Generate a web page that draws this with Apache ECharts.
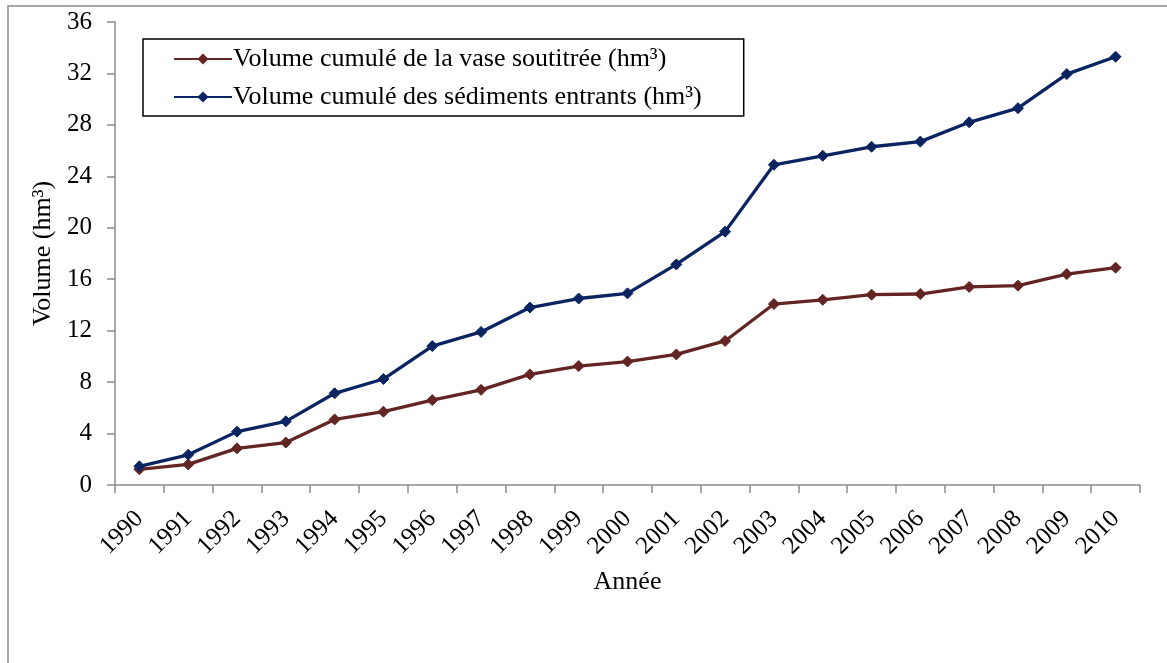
<!DOCTYPE html>
<html><head><meta charset="utf-8">
<script src="https://cdn.jsdelivr.net/npm/echarts@6/dist/echarts.min.js"></script>
<style>html,body{margin:0;padding:0;background:#fff}#c{width:1167px;height:663px}</style>
</head><body><div id="c"></div>
<script>
const years = ['1990','1991','1992','1993','1994','1995','1996','1997','1998','1999','2000','2001','2002','2003','2004','2005','2006','2007','2008','2009','2010'];
const vaseSoutiree = [1.22,1.6,2.85,3.3,5.1,5.7,6.6,7.4,8.6,9.25,9.6,10.15,11.2,14.07,14.4,14.8,14.85,15.4,15.5,16.4,16.9];
const sedimentsEntrants = [1.45,2.35,4.15,4.95,7.13,8.24,10.8,11.9,13.8,14.5,14.9,17.15,19.7,24.9,25.6,26.3,26.7,28.2,29.3,31.95,33.3];
const yTicks = [0,4,8,12,16,20,24,28,32,36];
const seriesNames = ['Volume cumulé de la vase soutitrée (hm³)','Volume cumulé des sédiments entrants (hm³)'];

const font = '"Liberation Serif","Times New Roman",serif';
const chart = echarts.init(document.getElementById('c'), null, {renderer:'canvas'});
chart.setOption({
  animation:false,
  backgroundColor:'#fff',
  graphic:[{type:'rect',shape:{x:8,y:6,width:1300,height:800},style:{fill:'none',stroke:'#8c8c8c',lineWidth:1.5},z:-1}],
  grid:{left:115,top:22,right:27,bottom:178,containLabel:false},
  legend:{
    left:143,top:39,orient:'vertical',
    padding:[5,42,4,30],itemGap:8,
    borderColor:'#000',borderWidth:1.5,
    itemWidth:58,itemHeight:14,
    textStyle:{fontFamily:font,fontSize:26,lineHeight:30,color:'#000',padding:[0,0,0,-4]},
    data:seriesNames
  },
  xAxis:{
    type:'category',data:years,boundaryGap:true,
    name:'Année',nameLocation:'middle',nameGap:84,
    nameTextStyle:{fontFamily:font,fontSize:26,color:'#000'},
    axisLine:{lineStyle:{color:'#8c8c8c',width:1.5}},
    axisTick:{show:true,alignWithLabel:false,length:8,lineStyle:{color:'#8c8c8c',width:1.5}},
    axisLabel:{rotate:45,fontFamily:font,fontSize:25,color:'#000',margin:30,interval:0}
  },
  yAxis:{
    type:'value',min:yTicks[0],max:yTicks[yTicks.length-1],interval:4,
    name:'Volume (hm³)',nameLocation:'middle',nameGap:58,
    nameTextStyle:{fontFamily:font,fontSize:26,color:'#000'},
    axisLine:{show:true,lineStyle:{color:'#8c8c8c',width:1.5}},
    axisTick:{show:true,length:8,lineStyle:{color:'#8c8c8c',width:1.5}},
    splitLine:{show:false},
    axisLabel:{fontFamily:font,fontSize:25,color:'#000',margin:23}
  },
  series:[
    {name:seriesNames[0],type:'line',data:vaseSoutiree,symbol:'diamond',symbolSize:11,
     lineStyle:{color:'#632523',width:3.3},itemStyle:{color:'#632523',borderColor:'#632523'},z:2},
    {name:seriesNames[1],type:'line',data:sedimentsEntrants,symbol:'diamond',symbolSize:11,
     lineStyle:{color:'#0a2461',width:3.3},itemStyle:{color:'#0a2461',borderColor:'#0a2461'},z:3}
  ]
});
</script></body></html>
